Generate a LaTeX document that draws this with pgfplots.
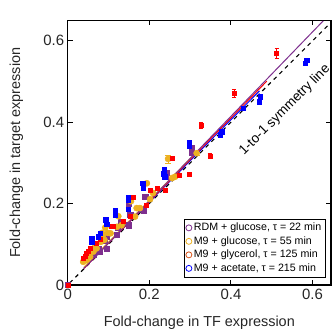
\documentclass[border=0pt]{standalone}
\usepackage{pgfplots}
\pgfplotsset{compat=1.18}
\usepackage{fontspec}
\setmainfont{Liberation Sans}
\definecolor{mpurple}{rgb}{0.494,0.184,0.556}
\definecolor{morange}{rgb}{0.929,0.694,0.125}
\definecolor{mred}{rgb}{1,0,0}
\definecolor{mblue}{rgb}{0,0,1}
\definecolor{mglyc}{rgb}{0.85,0.325,0.098}
\definecolor{txt}{rgb}{0.15,0.15,0.15}
\begin{document}
\begin{tikzpicture}
\useasboundingbox (0,0) rectangle (332bp,329bp);
\begin{axis}[
  at={(67.7bp,44bp)}, anchor=south west,
  scale only axis, width=263.2bp, height=264.5bp,
  xmin=0, xmax=0.645, ymin=0, ymax=0.65,
  xtick={0,0.2,0.4,0.6}, ytick={0,0.2,0.4,0.6},
  tick align=inside, major tick length=5bp,
  axis line style={line width=1.3bp, black},
  tick style={line width=1bp, black},
  /pgf/number format/assume math mode=true,
  ticklabel style={font=\fontsize{15}{18}\selectfont, text=txt},
  xticklabel style={yshift=-1bp},
  xlabel={Fold-change in TF expression},
  ylabel={Fold-change in target expression},
  label style={font=\fontsize{14.5}{17}\selectfont, text=txt},
  xlabel style={at={(axis description cs:0.5,-0.1437)}, anchor=center},
  ylabel style={at={(axis description cs:-0.195,0.5)}, anchor=center, rotate=0},
  legend style={at={(axis cs:0.632,0.019)}, anchor=south east, draw=black, line width=0.6bp,
    font=\fontsize{10.7}{12}\selectfont, row sep=0.3bp, inner sep=2bp, fill=white},
  legend cell align=left,
  clip=false,
]
% symmetry line
\addplot[black, dashed, line width=1.1bp, dash pattern=on 4bp off 4bp, forget plot] coordinates {(0.005,0.005) (0.64,0.64)};
% purple RDM
\addplot[only marks, mark=square*, mark size=2.6bp, color=mpurple, forget plot] table {
x y
0 0
0.045 0.062
0.063 0.074
0.075 0.090
0.077 0.082
0.091 0.110
0.096 0.090
0.096 0.119
0.120 0.123
0.122 0.140
0.131 0.156
0.150 0.147
0.150 0.199
0.153 0.172
0.187 0.184
0.190 0.217
0.239 0.266
0.242 0.276
0.303 0.325
0.303 0.336
};
% orange M9 glucose
\addplot[only marks, mark=*, mark size=3.1bp, color=morange, forget plot,
  error bars/.cd, y dir=both, y explicit, error bar style={line width=0.8bp}] table[x=x,y=y,y error=e] {
x y e
0.038 0.057 0
0.046 0.061 0
0.055 0.070 0
0.063 0.082 0
0.067 0.094 0
0.071 0.090 0
0.081 0.106 0
0.084 0.128 0
0.087 0.123 0
0.090 0.111 0
0.092 0.141 0
0.098 0.128 0
0.105 0.127 0
0.121 0.143 0
0.124 0.169 0
0.132 0.147 0
0.155 0.206 0
0.165 0.168 0
0.169 0.189 0
0.177 0.189 0
0.194 0.250 0
0.202 0.211 0
0.209 0.226 0
0.246 0.310 0.010
0.256 0.263 0
0.263 0.266 0
0.316 0.324 0.006
};
% red M9 glycerol
\addplot[only marks, mark=square*, mark size=2bp, color=mred, forget plot,
  error bars/.cd, y dir=both, y explicit, error bar style={line width=0.8bp}] table[x=x,y=y,y error=e] {
x y e
0 0 0
0.038 0.066 0.003
0.042 0.070 0.003
0.046 0.078 0.003
0.050 0.082 0.003
0.055 0.090 0.003
0.069 0.102 0.003
0.079 0.112 0.003
0.106 0.145 0.004
0.111 0.145 0.004
0.135 0.156 0.004
0.153 0.168 0.004
0.160 0.216 0.004
0.192 0.197 0.004
0.203 0.233 0.004
0.219 0.237 0.004
0.239 0.232 0.004
0.255 0.312 0.005
0.274 0.270 0.004
0.298 0.272 0.004
0.348 0.317 0.006
0.327 0.393 0.008
0.408 0.471 0.010
0.512 0.569 0.012
};
% blue M9 acetate
\addplot[only marks, mark=square*, mark size=2.2bp, color=mblue, forget plot,
  error bars/.cd, y dir=both, y explicit, error bar style={line width=0.8bp}] table[x=x,y=y,y error=e] {
x y e
0.059 0.106 0.003
0.059 0.115 0.003
0.075 0.119 0.003
0.079 0.127 0.003
0.093 0.160 0.003
0.096 0.150 0.003
0.116 0.172 0.003
0.116 0.184 0.003
0.148 0.187 0.003
0.148 0.209 0.003
0.148 0.216 0.003
0.184 0.250 0.003
0.185 0.238 0.003
0.235 0.274 0.003
0.236 0.285 0.003
0.238 0.266 0.003
0.298 0.342 0.004
0.298 0.350 0.004
0.373 0.369 0.004
0.377 0.377 0.004
0.430 0.435 0.004
0.470 0.450 0.004
0.471 0.463 0.004
0.582 0.545 0.004
0.586 0.553 0.004
};
% fit lines
\addplot[mblue, line width=1bp, forget plot] coordinates {(0.04,0.042) (0.47,0.477)};
\addplot[mred, line width=1bp, forget plot] coordinates {(0.04,0.041) (0.488,0.501)};
\addplot[morange, line width=1bp, forget plot] coordinates {(0.04,0.044) (0.32,0.331)};
\addplot[mpurple, line width=1bp, forget plot] coordinates {(0.04,0.041) (0.626,0.649)};
% legend
\addlegendimage{only marks, mark=o, mark size=3bp, mpurple, line width=0.8bp}
\addlegendentry{RDM + glucose, τ = 22 min}
\addlegendimage{only marks, mark=o, mark size=3bp, morange, line width=0.8bp}
\addlegendentry{M9 + glucose, τ = 55 min}
\addlegendimage{only marks, mark=o, mark size=3bp, mglyc, line width=0.8bp}
\addlegendentry{M9 + glycerol, τ = 125 min}
\addlegendimage{only marks, mark=o, mark size=3bp, mblue, line width=0.8bp}
\addlegendentry{M9 + acetate, τ = 215 min}
\node[rotate=45, font=\fontsize{13.5}{16}\selectfont, text=black] at (axis cs:0.532,0.430) {1-to-1 symmetry line};
\end{axis}
\end{tikzpicture}
\end{document}
